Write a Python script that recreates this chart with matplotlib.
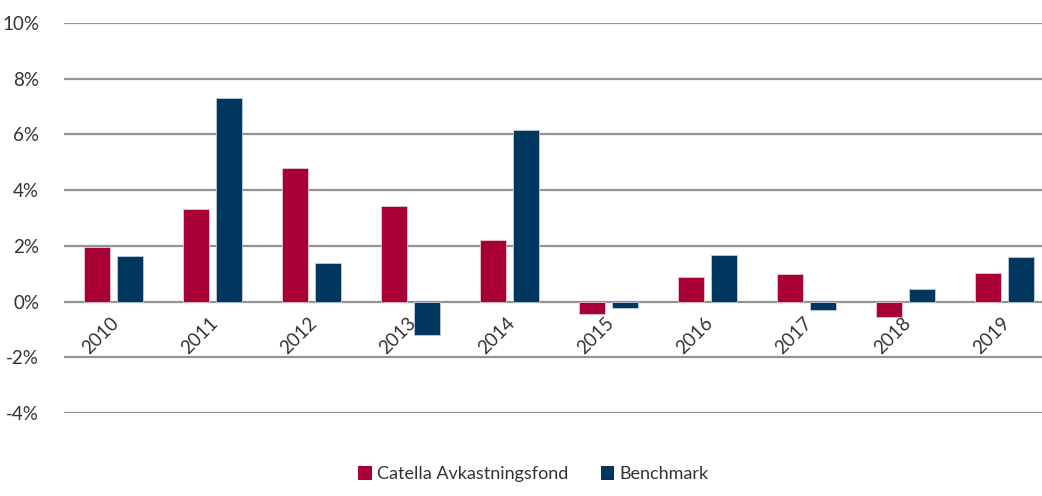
import matplotlib
matplotlib.use("Agg")
import matplotlib.pyplot as plt
import numpy as np
from matplotlib.patches import Patch

years = ["2010", "2011", "2012", "2013", "2014", "2015", "2016", "2017", "2018", "2019"]
catella = [1.97, 3.33, 4.80, 3.42, 2.22, -0.44, 0.87, 0.99, -0.55, 1.03]
benchmark = [1.65, 7.31, 1.40, -1.21, 6.16, -0.23, 1.68, -0.31, 0.45, 1.60]
series_names = ["Catella Avkastningsfond", "Benchmark"]
yticks = [-4, -2, 0, 2, 4, 6, 8, 10]

RED = "#A80034"
BLUE = "#00375F"
TXT = "#333333"
GRID = "#939393"

plt.rcParams['font.family'] = ['Lato', 'DejaVu Sans']

fig = plt.figure(figsize=(10.42, 4.96), dpi=100)
W, H = 1042, 496
left, right, top, bottom = 64, 1054, 23, 413
ax = fig.add_axes([left / W, (H - bottom) / H, (right - left) / W, (bottom - top) / H])

x = np.arange(len(years))
bw = 0.263
off = 0.167
ax.bar(x - off, catella, width=bw, color=RED, edgecolor="#e8c8d0", linewidth=0.6, zorder=3)
ax.bar(x + off, benchmark, width=bw, color=BLUE, edgecolor="#c0cde0", linewidth=0.6, zorder=3)

ax.set_xlim(-0.5, len(years) - 0.5)
ax.set_ylim(-4, 10)
ax.set_yticks(yticks)
ax.set_yticklabels([f"{v}%" for v in yticks], fontsize=13.5, color=TXT)
ax.tick_params(axis='y', length=0, pad=18)
ax.set_xticks([])
for s in ax.spines.values():
    s.set_visible(False)
ax.grid(axis='y', color=GRID, linewidth=1.6, zorder=0)
ax.set_axisbelow(True)

for i, yr in enumerate(years):
    ax.annotate(yr, xy=(i, 0), xycoords='data', xytext=(-3, -13), textcoords='offset pixels',
                rotation=45, rotation_mode='anchor', ha='right', va='top',
                fontsize=13.5, color=TXT)

handles = [Patch(facecolor=RED, edgecolor='none'), Patch(facecolor=BLUE, edgecolor='none')]
fig.legend(handles, series_names, loc='lower center', bbox_to_anchor=(0.512, -0.005), ncol=2,
           frameon=False, prop={'size': 13}, handlelength=0.75, handleheight=0.75,
           handletextpad=0.3, columnspacing=1.8, labelcolor=TXT)

fig.savefig("out.png", dpi=100)
